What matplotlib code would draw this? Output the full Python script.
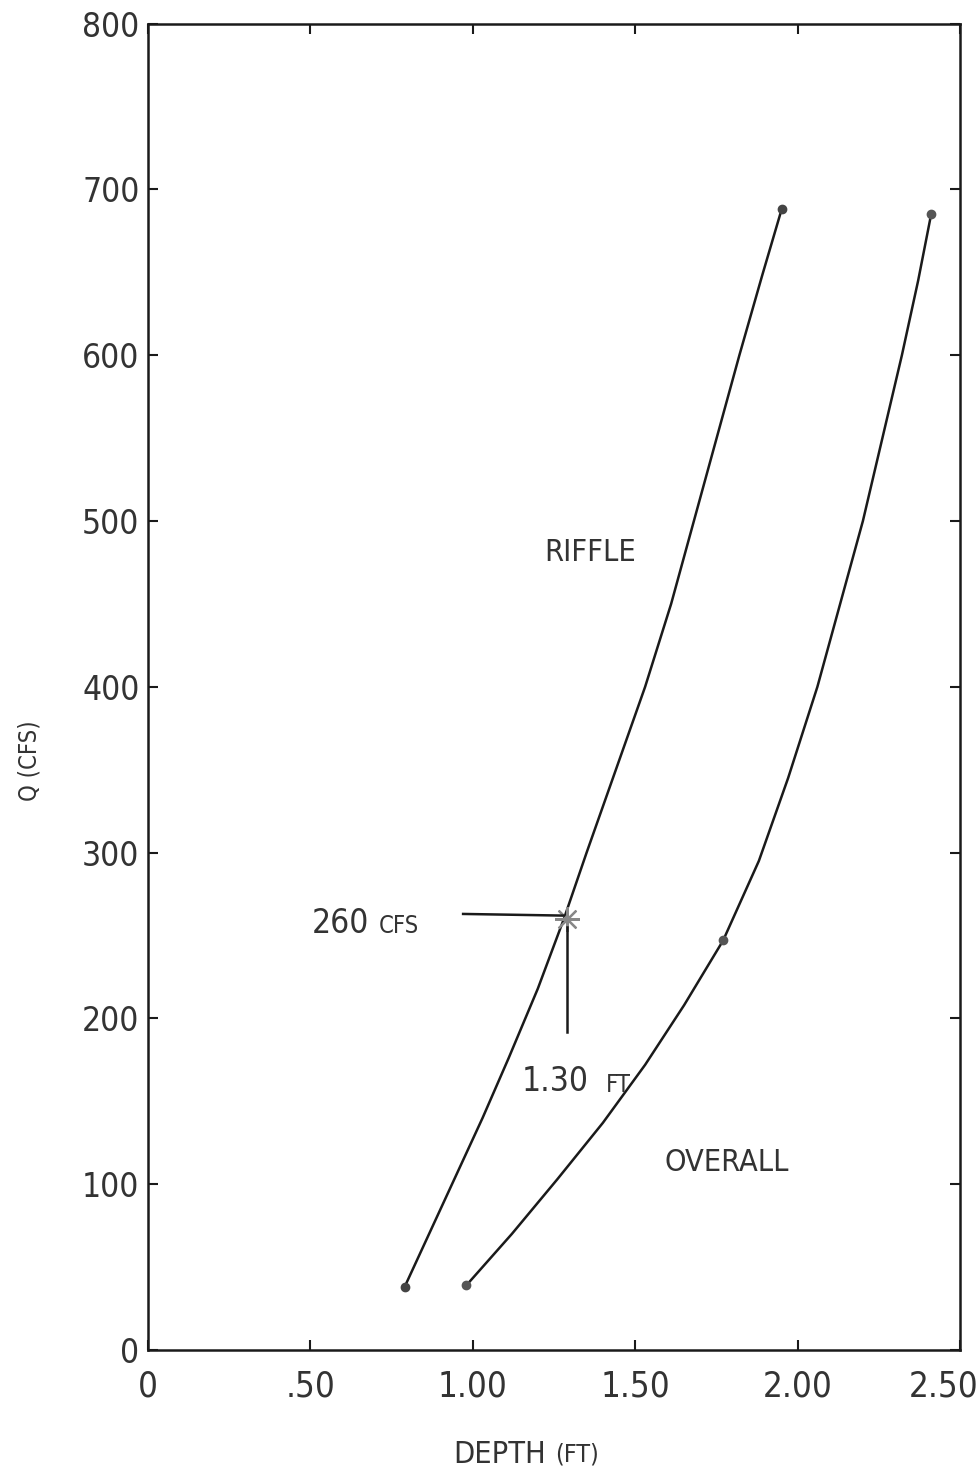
import matplotlib.pyplot as plt
import matplotlib.transforms as mtransforms

plt.rcParams['font.family'] = ['DejaVu Sans']
plt.rcParams['font.stretch'] = 'condensed'

# values
riffle_depth = [0.79, 0.87, 0.95, 1.03, 1.11, 1.20, 1.28, 1.35,
                1.44, 1.53, 1.61, 1.68, 1.75, 1.82, 1.89, 1.95]
riffle_q = [38, 72, 106, 140, 176, 218, 260, 300,
            350, 400, 450, 500, 550, 600, 648, 688]

overall_depth = [0.98, 1.12, 1.26, 1.40, 1.53, 1.65, 1.77, 1.88,
                 1.97, 2.06, 2.13, 2.20, 2.26, 2.32, 2.37, 2.41]
overall_q = [39, 70, 103, 137, 172, 208, 247, 295,
             345, 400, 450, 500, 550, 600, 645, 685]

riffle_dots_x = [0.79, 1.95]
riffle_dots_y = [38, 688]
overall_dots_x = [0.98, 1.77, 2.41]
overall_dots_y = [39, 247, 685]

star_x = 1.30
star_q = 260

x_ticks = [0, 0.5, 1.0, 1.5, 2.0, 2.5]
x_tick_labels = ['0', '.50', '1.00', '1.50', '2.00', '2.50']
y_ticks = [0, 100, 200, 300, 400, 500, 600, 700, 800]

ink = '#1a1a1a'
txt = '#333333'

fig = plt.figure(figsize=(9.79, 14.77), dpi=100)
ax = fig.add_axes([0.151, 0.086, 0.830, 0.898])

ax.plot(riffle_depth, riffle_q, color=ink, lw=1.8, solid_joinstyle='round')
ax.plot(overall_depth, overall_q, color=ink, lw=1.8, solid_joinstyle='round')
ax.plot(riffle_dots_x, riffle_dots_y, 'o', color='#444444', ms=6)
ax.plot(overall_dots_x, overall_dots_y, 'o', color='#555555', ms=6)

# asterisk at the 260 cfs / 1.30 ft point
ax.plot([star_x - 0.01], [star_q], marker=(8, 2, 0), color='#888888', ms=18, mew=1.6)
ax.plot([0.97, star_x - 0.02], [star_q + 3, star_q + 2], color=ink, lw=1.8)
ax.plot([star_x - 0.01, star_x - 0.01], [192, star_q - 5], color=ink, lw=1.8)

ax.text(0.505, star_q - 3, '260', fontsize=24, color=txt, ha='left', va='center')
ax.text(0.71, star_q - 4, 'CFS', fontsize=17, color=txt, ha='left', va='center')
ax.text(1.15, 162, '1.30', fontsize=24, color=txt, ha='left', va='center')
ax.text(1.41, 160, 'FT', fontsize=17, color=txt, ha='left', va='center')
ax.text(1.36, 481, 'RIFFLE', fontsize=22, color=txt, ha='center', va='center')
ax.text(1.78, 113, 'OVERALL', fontsize=22, color=txt, ha='center', va='center')

ax.set_xlim(0, 2.5)
ax.set_ylim(0, 800)
ax.set_xticks(x_ticks)
ax.set_xticklabels(x_tick_labels)
ax.set_yticks(y_ticks)
ax.tick_params(direction='in', length=7, width=1.5, colors=ink,
               top=True, right=True, labelsize=24, labelcolor=txt)
ax.tick_params(axis='x', pad=14, labelsize=25)
ax.tick_params(axis='y', pad=6)
for s in ax.spines.values():
    s.set_linewidth(1.8)
    s.set_color(ink)

last = ax.get_xticklabels()[-1]
last.set_transform(last.get_transform() +
                   mtransforms.ScaledTranslation(-0.17, 0, fig.dpi_scale_trans))

fig.text(0.558, 0.015, 'DEPTH', fontsize=22, color=txt, ha='right', va='center')
fig.text(0.567, 0.015, '(FT)', fontsize=18, color=txt, ha='left', va='center')
fig.text(0.03, 0.485, 'Q (CFS)', fontsize=17, color=txt, ha='center', va='center',
         rotation=90)

fig.savefig('out.png', dpi=100)
